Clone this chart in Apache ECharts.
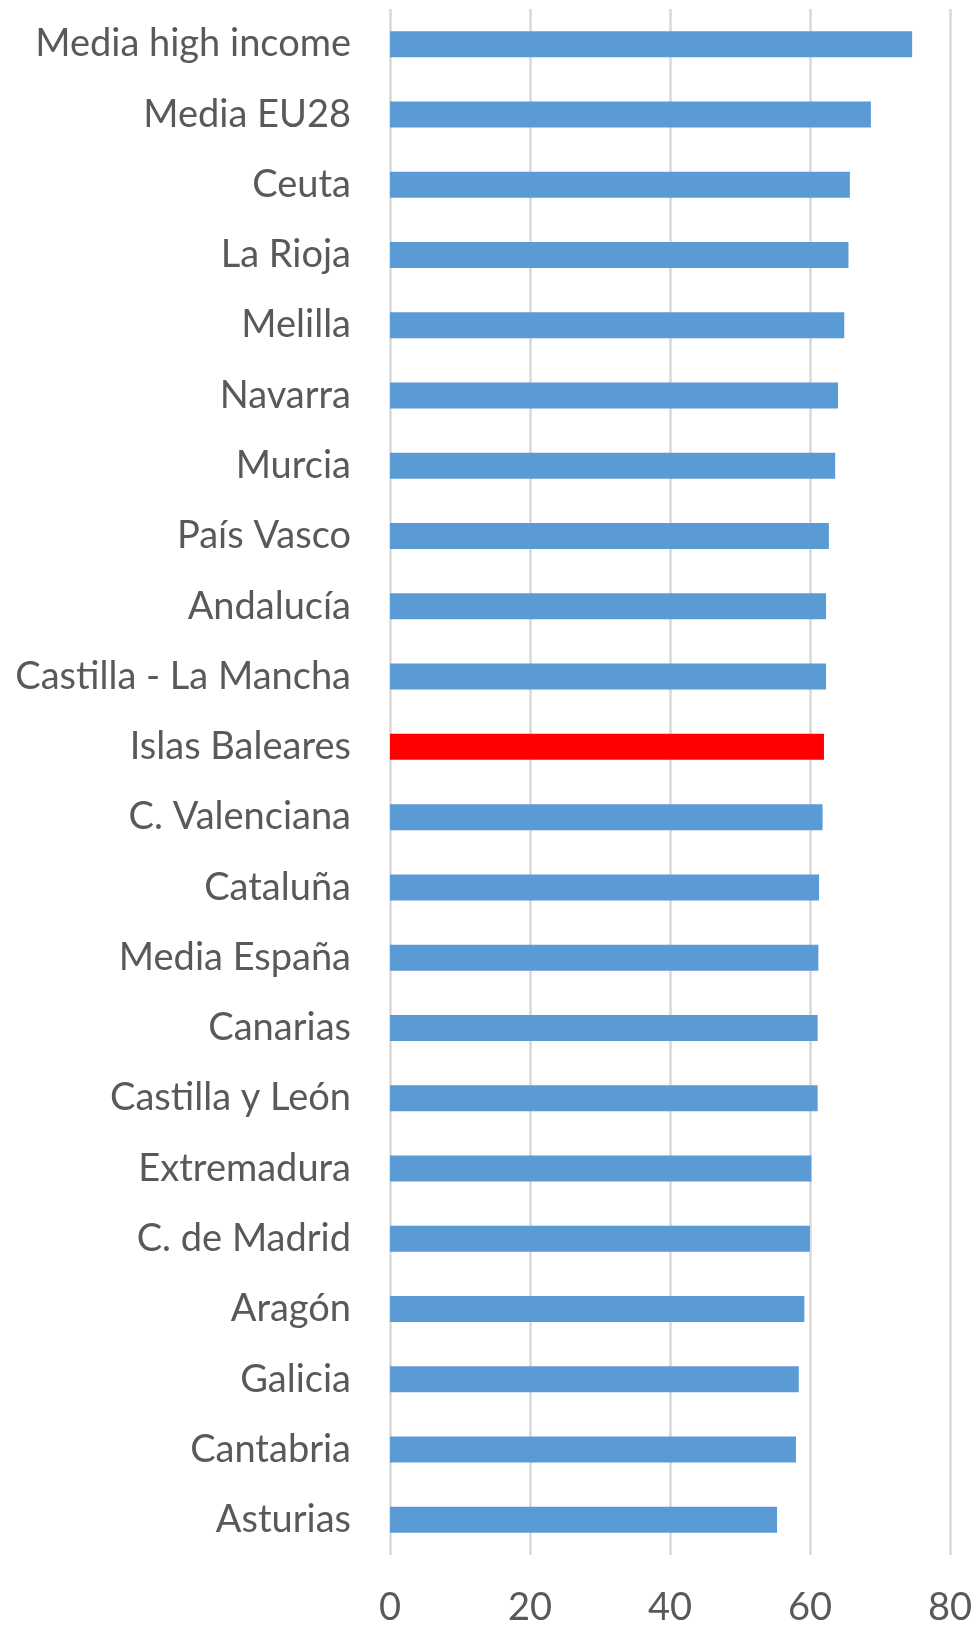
<!DOCTYPE html>
<html>
<head>
<meta charset="utf-8">
<script src="https://cdn.jsdelivr.net/npm/echarts@6/dist/echarts.min.js"></script>
<style>
  html, body { margin: 0; padding: 0; background: #fff; }
  #chart { width: 975px; height: 1627px; }
</style>
</head>
<body>
<div id="chart"></div>
<script>
const regions = [
  'Media high income', 'Media EU28', 'Ceuta', 'La Rioja', 'Melilla', 'Navarra',
  'Murcia', 'País Vasco', 'Andalucía', 'Castilla - La Mancha', 'Islas Baleares',
  'C. Valenciana', 'Cataluña', 'Media España', 'Canarias', 'Castilla y León',
  'Extremadura', 'C. de Madrid', 'Aragón', 'Galicia', 'Cantabria', 'Asturias'
];
const values = [
  74.6, 68.7, 65.7, 65.5, 64.9, 64.0,
  63.6, 62.7, 62.3, 62.3, 62.0,
  61.8, 61.3, 61.2, 61.1, 61.1,
  60.2, 60.0, 59.2, 58.4, 58.0, 55.3
];
const highlight = 'Islas Baleares';

const chart = echarts.init(document.getElementById('chart'));

chart.setOption({
  animation: false,
  grid: { left: 390, right: 25, top: 9, bottom: 66 },
  xAxis: {
    type: 'value',
    min: 0,
    max: 80,
    interval: 20,
    axisLine: { show: false },
    axisTick: { show: false },
    axisLabel: { fontFamily: 'Lato', fontSize: 38, color: '#595959', margin: 34 },
    splitLine: { lineStyle: { color: '#d9d9d9', width: 2.5 } }
  },
  yAxis: {
    type: 'category',
    data: regions,
    inverse: true,
    axisLine: { show: false },
    axisTick: { show: false },
    axisLabel: { fontFamily: 'Lato', fontSize: 38, color: '#595959', margin: 39 }
  },
  series: [{
    type: 'bar',
    barWidth: 26,
    data: values.map((v, i) => ({
      value: v,
      itemStyle: { color: regions[i] === highlight ? '#ff0000' : '#5b9bd5' }
    }))
  }]
});
</script>
</body>
</html>
